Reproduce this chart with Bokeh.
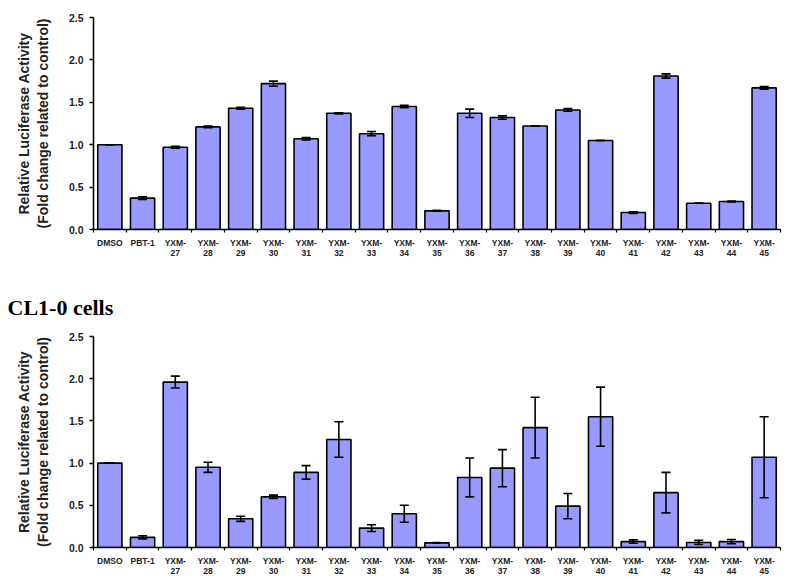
from bokeh.plotting import figure
from bokeh.layouts import column
from bokeh.models import Range1d, FixedTicker, Whisker, ColumnDataSource, TeeHead, NumeralTickFormatter
from bokeh.embed import file_html
from bokeh.resources import INLINE

categories = ["DMSO", "PBT-1", "YXM-27", "YXM-28", "YXM-29", "YXM-30", "YXM-31", "YXM-32",
              "YXM-33", "YXM-34", "YXM-35", "YXM-36", "YXM-37", "YXM-38", "YXM-39", "YXM-40",
              "YXM-41", "YXM-42", "YXM-43", "YXM-44", "YXM-45"]
tick_labels = ["DMSO", "PBT-1"] + ["YXM-\n" + c.split("-")[1] for c in categories[2:]]

top_values = [1.00, 0.37, 0.97, 1.21, 1.43, 1.72, 1.07, 1.37, 1.13, 1.45, 0.22,
              1.37, 1.32, 1.22, 1.41, 1.05, 0.20, 1.81, 0.31, 0.33, 1.67]
top_errors = [0.0, 0.015, 0.01, 0.01, 0.01, 0.03, 0.015, 0.006, 0.025, 0.015, 0.005,
              0.05, 0.02, 0.0, 0.015, 0.0, 0.01, 0.025, 0.0, 0.005, 0.015]

bottom_values = [1.00, 0.12, 1.96, 0.95, 0.34, 0.60, 0.89, 1.28, 0.23, 0.40, 0.055,
                 0.83, 0.94, 1.42, 0.49, 1.55, 0.07, 0.65, 0.06, 0.07, 1.07]
bottom_errors = [0.0, 0.02, 0.07, 0.06, 0.03, 0.02, 0.08, 0.21, 0.04, 0.10, 0.003,
                 0.23, 0.22, 0.36, 0.15, 0.35, 0.02, 0.24, 0.025, 0.025, 0.48]

y_ticks = [0.0, 0.5, 1.0, 1.5, 2.0, 2.5]
title2 = "CL1-0 cells"
y_label = "Relative Luciferase Activity\n(Fold change related to control)"

SANS = "Liberation Sans"
BAR_FILL = "#9999FF"


def make_chart(values, errors, height, b_left, b_right, b_top, b_bottom, title=None):
    n = len(categories)
    xs = [i + 0.5 for i in range(n)]
    src = ColumnDataSource(dict(
        x=xs, top=values,
        upper=[v + e for v, e in zip(values, errors)],
        lower=[v - e for v, e in zip(values, errors)],
    ))
    p = figure(width=800, height=height, output_backend="svg", toolbar_location=None,
               x_range=Range1d(0, n), y_range=Range1d(0, 2.5),
               min_border_left=b_left, min_border_right=b_right,
               min_border_top=b_top, min_border_bottom=b_bottom,
               title=title)
    p.outline_line_color = None
    p.xgrid.visible = False
    p.ygrid.visible = False
    p.background_fill_color = "white"
    p.border_fill_color = "white"

    p.vbar(x="x", top="top", width=0.74, source=src, fill_color=BAR_FILL,
           line_color="black", line_width=1.6)
    w = Whisker(base="x", upper="upper", lower="lower", source=src,
                line_color="black", line_width=1.6, level="annotation",
                upper_head=TeeHead(size=9, line_color="black", line_width=1.6),
                lower_head=TeeHead(size=9, line_color="black", line_width=1.6))
    p.add_layout(w)

    # x axis
    xa = p.xaxis[0]
    xa.ticker = FixedTicker(ticks=xs, minor_ticks=list(range(0, n + 1)))
    xa.major_label_overrides = {x: lab for x, lab in zip(xs, tick_labels)}
    xa.major_tick_line_color = None
    xa.major_tick_out = 0
    xa.major_tick_in = 0
    xa.minor_tick_line_color = "black"
    xa.minor_tick_line_width = 1.2
    xa.minor_tick_out = 3
    xa.minor_tick_in = 0
    xa.axis_line_color = "black"
    xa.axis_line_width = 1.6
    xa.major_label_text_font = SANS
    xa.major_label_text_font_style = "bold"
    xa.major_label_text_font_size = "8.5px"
    xa.major_label_text_color = "#222222"
    xa.major_label_standoff = 5
    xa.major_label_text_line_height = 1.05

    # y axis
    ya = p.yaxis[0]
    ya.ticker = FixedTicker(ticks=y_ticks)
    ya.formatter = NumeralTickFormatter(format="0.0")
    ya.minor_tick_line_color = None
    ya.major_tick_out = 4
    ya.major_tick_in = 0
    ya.major_tick_line_width = 1.4
    ya.axis_line_width = 1.6
    ya.major_label_text_font = SANS
    ya.major_label_text_font_style = "bold"
    ya.major_label_text_font_size = "10.5px"
    ya.major_label_text_color = "#222222"
    ya.major_label_standoff = 6
    ya.axis_label = y_label
    ya.axis_label_text_font = SANS
    ya.axis_label_text_font_style = "bold"
    ya.axis_label_text_font_size = "14px"
    ya.axis_label_text_color = "#222222"
    ya.axis_label_standoff = 15
    return p


p1 = make_chart(top_values, top_errors, 261, 89, 12, 17, 32)
p2 = make_chart(bottom_values, bottom_errors, 318, 93, 20, 75, 31, title=title2)
p2.title.align = "left"
p2.title.offset = -86
p2.title.standoff = 34
p2.title.text_font = "Liberation Serif"
p2.title.text_font_style = "bold"
p2.title.text_font_size = "22px"
p2.title.text_color = "black"

layout = column(p1, p2, spacing=0)
open("out.html", "w").write(file_html(layout, INLINE))
